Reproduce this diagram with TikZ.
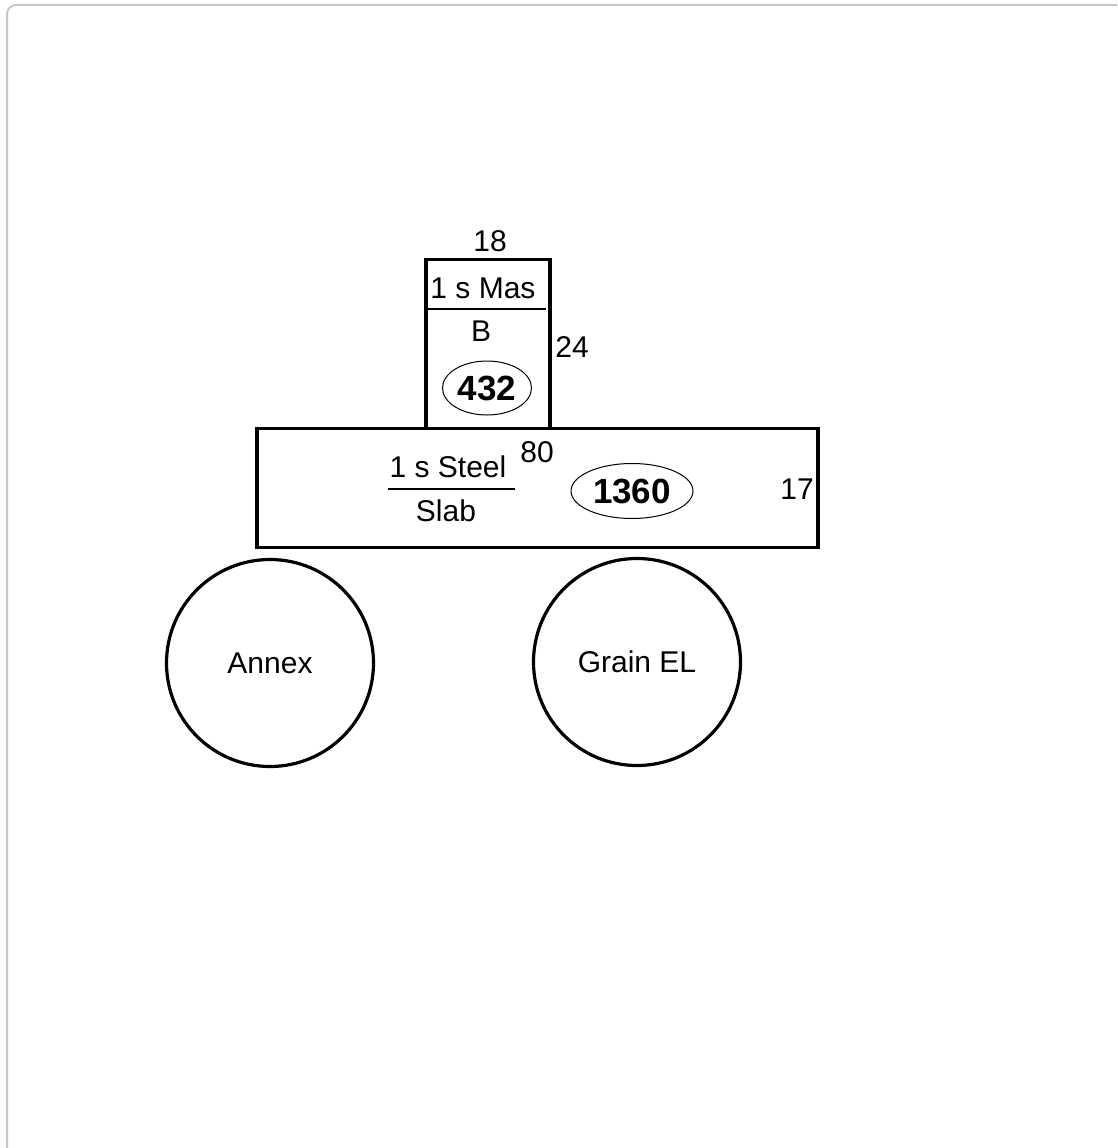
\documentclass[tikz,border=0pt]{standalone}
\usepackage{fontspec}
\setmainfont{Liberation Sans}
\usetikzlibrary{shapes.geometric}
\begin{document}
\begin{tikzpicture}[x=1pt,y=-1pt,
  box/.style={draw,line width=3.2pt,inner sep=0pt,outer sep=0pt},
  lbl/.style={inner sep=0pt,font=\fontsize{30}{32}\selectfont},
  num/.style={draw,ellipse,line width=1pt,inner sep=0pt,font=\bfseries\fontsize{35}{38}\selectfont},
  tank/.style={draw,circle,line width=3.2pt,inner sep=0pt,minimum size=207pt,font=\fontsize{30}{32}\selectfont},
  frac/.style={line width=1.8pt}]
\useasboundingbox (0,0) rectangle (1117,1148);
\begin{scope}
\clip (0,0) rectangle (1117,1148);
\draw[line width=2pt,gray!45,rounded corners=9pt] (7,5) rectangle (1135,1165);
\end{scope}
% small masonry box
\node[box,minimum width=124pt,minimum height=169pt] (mas) at (488,344) {};
\node[lbl] (t18) at (490,241) {18};
\node[lbl] (t24) at (572,347) {24};
\node[lbl] (masA) at (483,288) {1 s Mas};
\coordinate (mfl) at (428,309);
\coordinate (mfr) at (546,309);
\draw[frac] (mfl) -- (mfr);
\node[lbl] (masB) at (481,331) {B};
\node[num,minimum width=89pt,minimum height=54pt] (n432) at (487,388) {432};
% big steel box
\node[box,minimum width=561pt,minimum height=119pt] (steel) at (537.5,488) {};
\node[lbl] (t80) at (537,452) {80};
\node[lbl] (stA) at (448,467) {1 s Steel};
\coordinate (sfl) at (388,489);
\coordinate (sfr) at (515,489);
\draw[frac] (sfl) -- (sfr);
\node[lbl] (stB) at (446,511) {Slab};
\node[num,minimum width=122pt,minimum height=55pt] (n1360) at (632,491) {1360};
\node[lbl] (t17) at (797,489) {17};
% tanks
\node[tank] (annex) at (270,663) {Annex};
\node[tank] (grain) at (637,662) {Grain EL};
\end{tikzpicture}
\end{document}
